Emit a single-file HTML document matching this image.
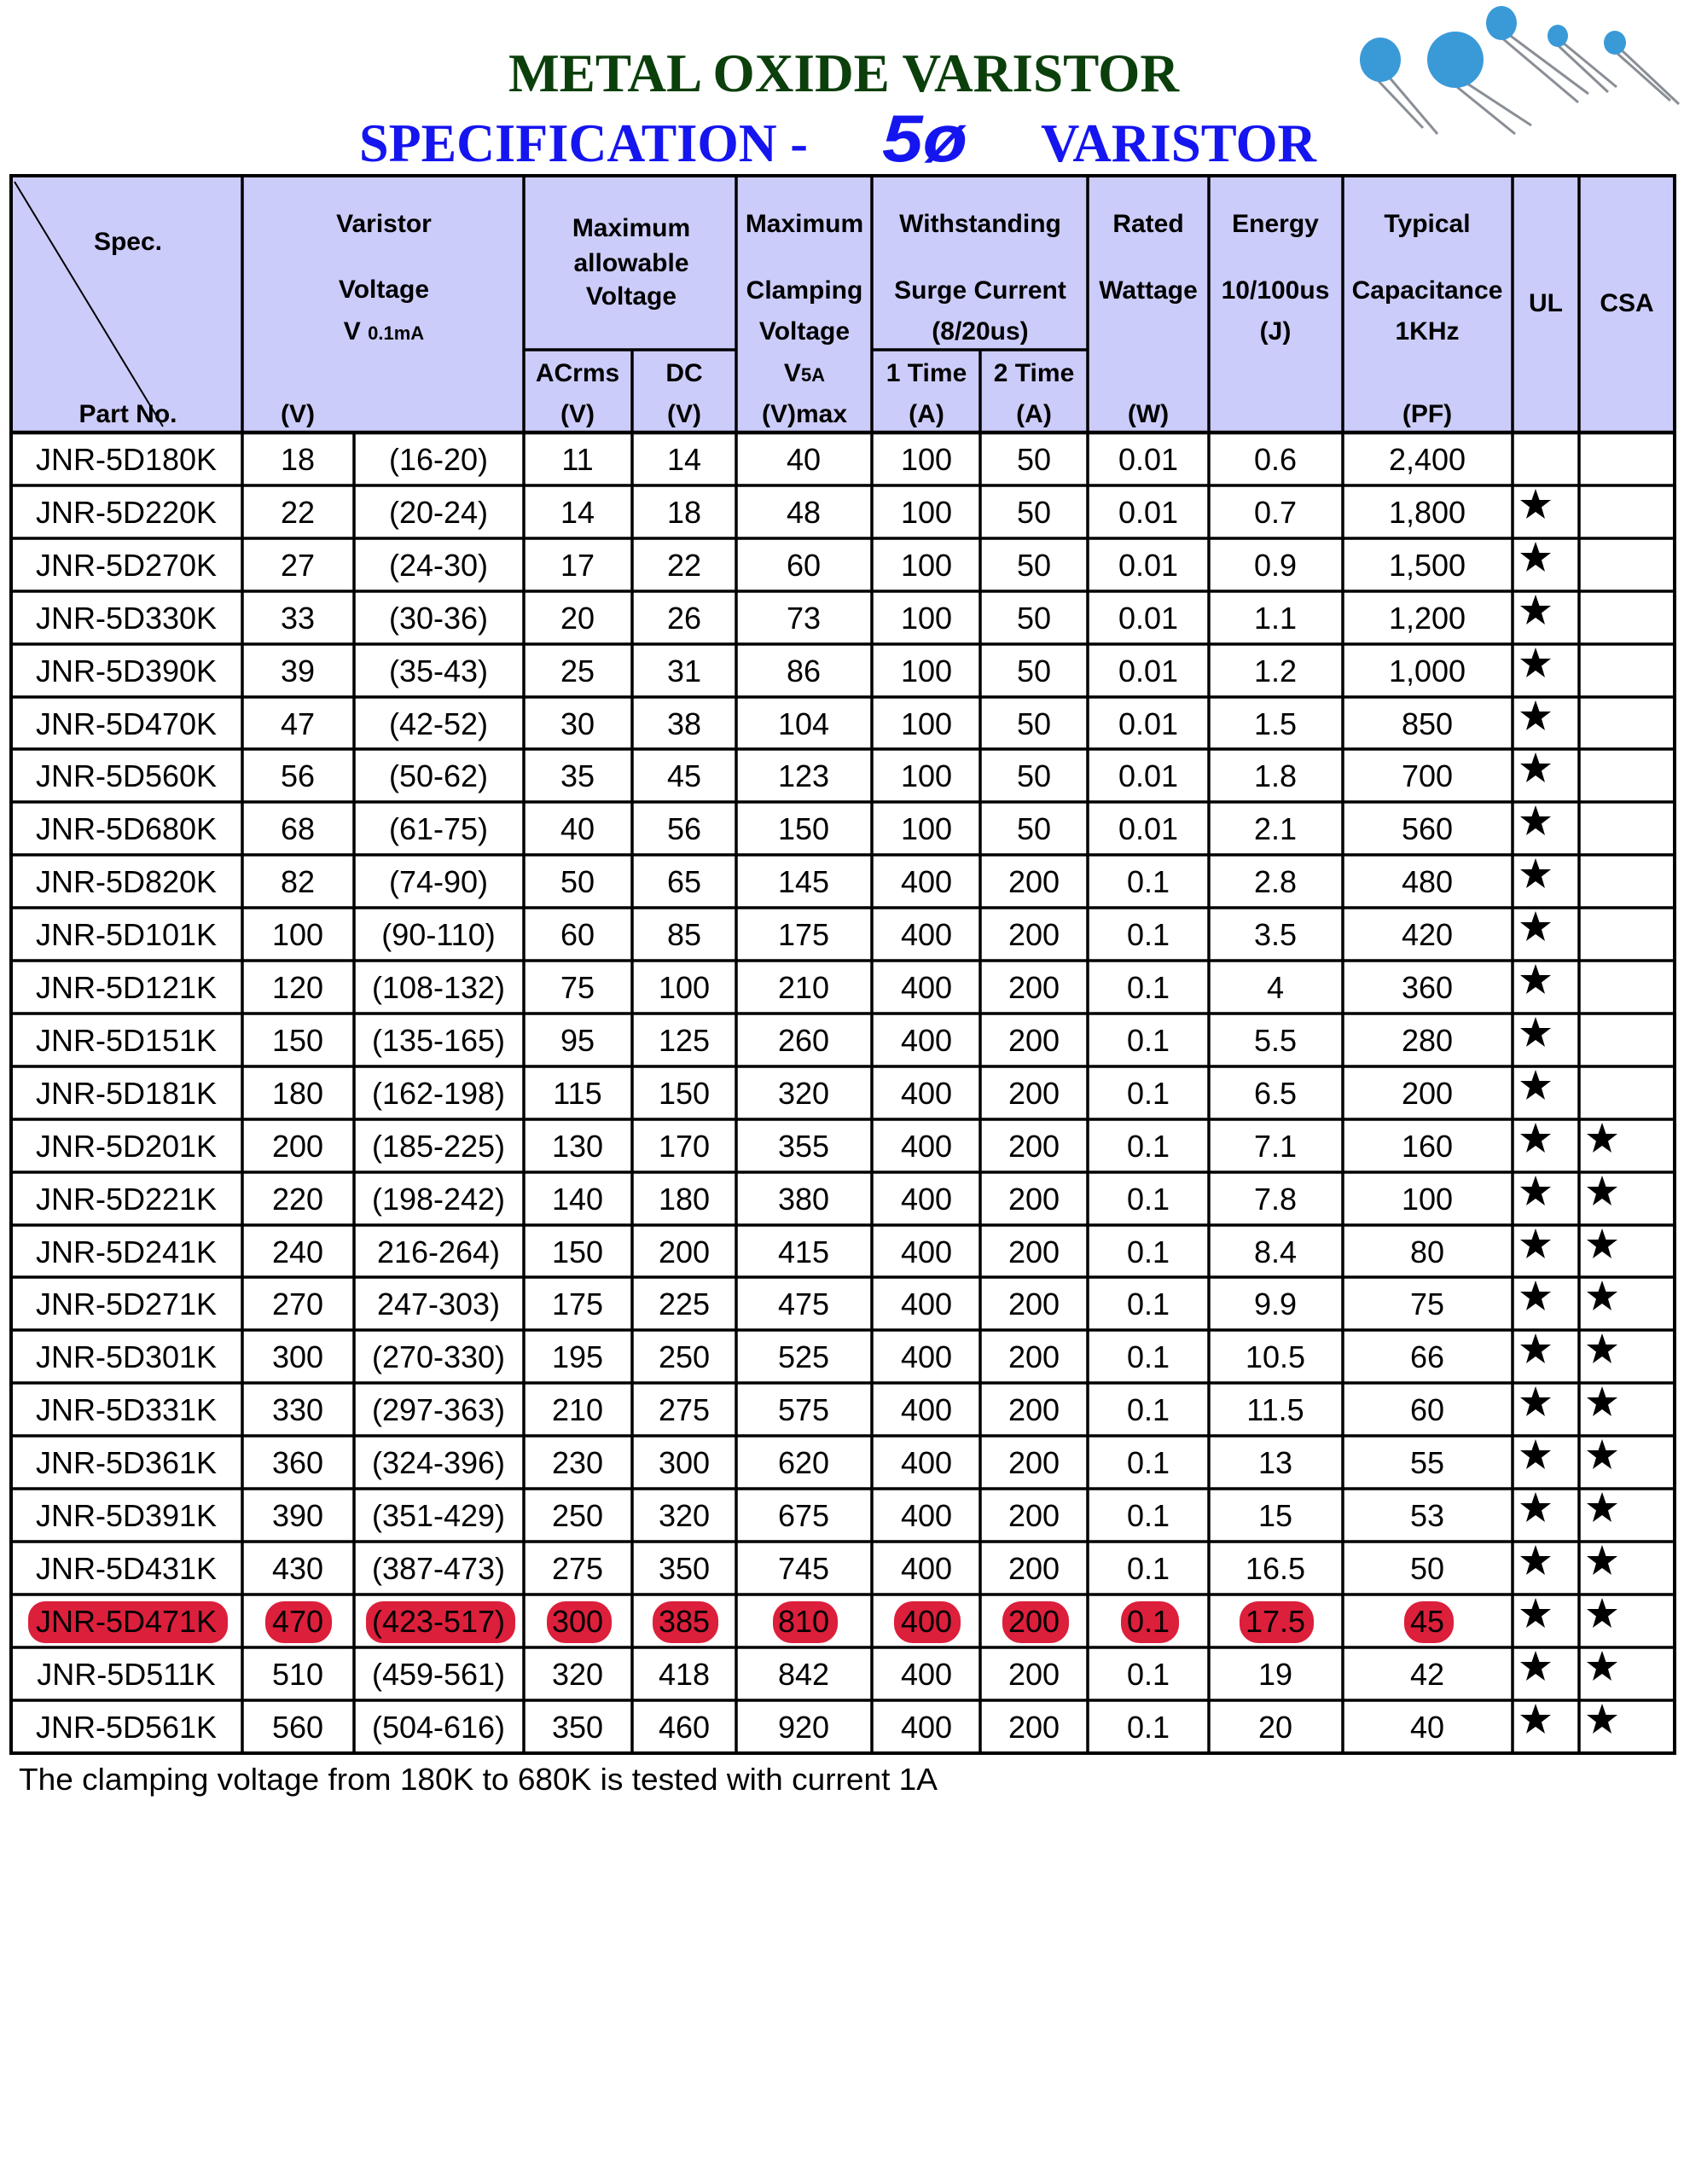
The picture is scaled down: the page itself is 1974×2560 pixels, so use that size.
<!DOCTYPE html>
<html><head><meta charset="utf-8"><style>
html,body{margin:0;padding:0;background:#fff;}
svg{display:block;}
.h{font-family:"Liberation Sans",sans-serif;font-weight:bold;font-size:30px;text-anchor:middle;fill:#000;}
.b text{font-family:"Liberation Sans",sans-serif;font-size:36px;text-anchor:middle;fill:#000;}
</style></head><body>
<svg width="1974" height="2560" viewBox="0 0 1974 2560" xmlns="http://www.w3.org/2000/svg">
<defs>
<path id="st" d="M0,-19 L4.5,-6 L18,-6 L7,2.5 L11,16 L0,8 L-11,16 L-7,2.5 L-18,-6 L-4.5,-6 Z" fill="#000"/>
</defs>
<rect width="1974" height="2560" fill="#fff"/>
<text x="596" y="107" textLength="786" lengthAdjust="spacingAndGlyphs" font-family="Liberation Serif,serif" font-weight="bold" font-size="64" fill="#0b3f0b">METAL OXIDE VARISTOR</text>
<text x="421" y="189" textLength="526" lengthAdjust="spacingAndGlyphs" font-family="Liberation Serif,serif" font-weight="bold" font-size="64" fill="#1515f0">SPECIFICATION -</text>
<text x="1034" y="189" textLength="100" lengthAdjust="spacingAndGlyphs" font-family="Liberation Sans,sans-serif" font-weight="bold" font-style="italic" font-size="78" fill="#1515f0">5ø</text>
<text x="1220" y="189" textLength="323" lengthAdjust="spacingAndGlyphs" font-family="Liberation Serif,serif" font-weight="bold" font-size="64" fill="#1515f0">VARISTOR</text>
<g stroke="#8a8f96" stroke-width="3">
<line x1="1628" y1="90" x2="1685" y2="157"/><line x1="1615" y1="94" x2="1668" y2="150"/>
<line x1="1720" y1="98" x2="1795" y2="147"/><line x1="1708" y1="102" x2="1776" y2="157"/>
<line x1="1768" y1="40" x2="1862" y2="110"/><line x1="1760" y1="44" x2="1850" y2="120"/>
<line x1="1832" y1="50" x2="1895" y2="102"/><line x1="1826" y1="53" x2="1885" y2="108"/>
<line x1="1900" y1="58" x2="1968" y2="122"/><line x1="1894" y1="61" x2="1958" y2="118"/>
</g>
<g fill="#3a9ad8">
<ellipse cx="1618" cy="70" rx="24" ry="26"/>
<ellipse cx="1706" cy="70" rx="33" ry="33"/>
<ellipse cx="1760" cy="27" rx="18" ry="20"/>
<ellipse cx="1826" cy="42" rx="12" ry="13"/>
<ellipse cx="1893" cy="50" rx="13" ry="14"/>
</g>
<rect x="13" y="206" width="1950" height="301" fill="#ccccfa"/>
<g fill="#dc1f3b">
<rect x="33" y="1877" width="234" height="49" rx="20"/>
<rect x="311" y="1877" width="78" height="49" rx="22"/>
<rect x="429" y="1877" width="175" height="49" rx="20"/>
<rect x="641" y="1877" width="76" height="49" rx="22"/>
<rect x="765" y="1877" width="77" height="49" rx="22"/>
<rect x="906" y="1877" width="76" height="49" rx="22"/>
<rect x="1048" y="1877" width="78" height="49" rx="22"/>
<rect x="1175" y="1877" width="78" height="49" rx="22"/>
<rect x="1314" y="1877" width="68" height="49" rx="22"/>
<rect x="1453" y="1877" width="87" height="49" rx="22"/>
<rect x="1646" y="1877" width="58" height="49" rx="22"/>
</g>
<g stroke="#000" stroke-width="3.5" fill="none">
<rect x="13" y="206" width="1950" height="1849" stroke-width="4"/>
<line x1="284" y1="206" x2="284" y2="2055"/>
<line x1="415" y1="507" x2="415" y2="2055"/>
<line x1="614" y1="206" x2="614" y2="2055"/>
<line x1="741" y1="410" x2="741" y2="2055"/>
<line x1="863" y1="206" x2="863" y2="2055"/>
<line x1="1022" y1="206" x2="1022" y2="2055"/>
<line x1="1149" y1="410" x2="1149" y2="2055"/>
<line x1="1275" y1="206" x2="1275" y2="2055"/>
<line x1="1417" y1="206" x2="1417" y2="2055"/>
<line x1="1574" y1="206" x2="1574" y2="2055"/>
<line x1="1773" y1="206" x2="1773" y2="2055"/>
<line x1="1851" y1="206" x2="1851" y2="2055"/>
<line x1="614" y1="410" x2="863" y2="410"/>
<line x1="1022" y1="410" x2="1275" y2="410"/>
<line x1="13" y1="507" x2="1963" y2="507" stroke-width="4.5"/>
<line x1="13" y1="569" x2="1963" y2="569"/><line x1="13" y1="631" x2="1963" y2="631"/>
<line x1="13" y1="693" x2="1963" y2="693"/><line x1="13" y1="755" x2="1963" y2="755"/>
<line x1="13" y1="817" x2="1963" y2="817"/><line x1="13" y1="878" x2="1963" y2="878"/>
<line x1="13" y1="940" x2="1963" y2="940"/><line x1="13" y1="1002" x2="1963" y2="1002"/>
<line x1="13" y1="1064" x2="1963" y2="1064"/><line x1="13" y1="1126" x2="1963" y2="1126"/>
<line x1="13" y1="1188" x2="1963" y2="1188"/><line x1="13" y1="1250" x2="1963" y2="1250"/>
<line x1="13" y1="1312" x2="1963" y2="1312"/><line x1="13" y1="1374" x2="1963" y2="1374"/>
<line x1="13" y1="1436" x2="1963" y2="1436"/><line x1="13" y1="1497" x2="1963" y2="1497"/>
<line x1="13" y1="1559" x2="1963" y2="1559"/><line x1="13" y1="1621" x2="1963" y2="1621"/>
<line x1="13" y1="1683" x2="1963" y2="1683"/><line x1="13" y1="1745" x2="1963" y2="1745"/>
<line x1="13" y1="1807" x2="1963" y2="1807"/><line x1="13" y1="1869" x2="1963" y2="1869"/>
<line x1="13" y1="1931" x2="1963" y2="1931"/><line x1="13" y1="1993" x2="1963" y2="1993"/>
<line x1="17" y1="213" x2="191" y2="500" stroke-width="2"/>
</g>
<g class="h">
<text x="150" y="293">Spec.</text>
<text x="150" y="495">Part No.</text>
<text x="450" y="272">Varistor</text>
<text x="450" y="349">Voltage</text>
<text x="450" y="398">V <tspan font-size="22">0.1mA</tspan></text>
<text x="349" y="495">(V)</text>
<text x="740" y="277">Maximum</text>
<text x="740" y="318">allowable</text>
<text x="740" y="357">Voltage</text>
<text x="677" y="447">ACrms</text><text x="677" y="495">(V)</text>
<text x="802" y="447">DC</text><text x="802" y="495">(V)</text>
<text x="943" y="272">Maximum</text>
<text x="943" y="350">Clamping</text>
<text x="943" y="398">Voltage</text>
<text x="943" y="447">V<tspan font-size="22">5A</tspan></text>
<text x="943" y="495">(V)max</text>
<text x="1149" y="272">Withstanding</text>
<text x="1149" y="350">Surge Current</text>
<text x="1149" y="398">(8/20us)</text>
<text x="1086" y="447">1 Time</text><text x="1086" y="495">(A)</text>
<text x="1212" y="447">2 Time</text><text x="1212" y="495">(A)</text>
<text x="1346" y="272">Rated</text>
<text x="1346" y="350">Wattage</text>
<text x="1346" y="495">(W)</text>
<text x="1495" y="272">Energy</text>
<text x="1495" y="350">10/100us</text>
<text x="1495" y="398">(J)</text>
<text x="1673" y="272">Typical</text>
<text x="1673" y="350">Capacitance</text>
<text x="1673" y="398">1KHz</text>
<text x="1673" y="495">(PF)</text>
<text x="1812" y="365">UL</text>
<text x="1907" y="365">CSA</text>
</g>
<g class="b">
<g transform="translate(0,507)"><text x="148" y="44">JNR-5D180K</text><text x="349" y="44">18</text><text x="514" y="44">(16-20)</text><text x="677" y="44">11</text><text x="802" y="44">14</text><text x="942" y="44">40</text><text x="1086" y="44">100</text><text x="1212" y="44">50</text><text x="1346" y="44">0.01</text><text x="1495" y="44">0.6</text><text x="1673" y="44">2,400</text></g>
<g transform="translate(0,569)"><text x="148" y="44">JNR-5D220K</text><text x="349" y="44">22</text><text x="514" y="44">(20-24)</text><text x="677" y="44">14</text><text x="802" y="44">18</text><text x="942" y="44">48</text><text x="1086" y="44">100</text><text x="1212" y="44">50</text><text x="1346" y="44">0.01</text><text x="1495" y="44">0.7</text><text x="1673" y="44">1,800</text><use href="#st" x="1800" y="23"/></g>
<g transform="translate(0,631)"><text x="148" y="44">JNR-5D270K</text><text x="349" y="44">27</text><text x="514" y="44">(24-30)</text><text x="677" y="44">17</text><text x="802" y="44">22</text><text x="942" y="44">60</text><text x="1086" y="44">100</text><text x="1212" y="44">50</text><text x="1346" y="44">0.01</text><text x="1495" y="44">0.9</text><text x="1673" y="44">1,500</text><use href="#st" x="1800" y="23"/></g>
<g transform="translate(0,693)"><text x="148" y="44">JNR-5D330K</text><text x="349" y="44">33</text><text x="514" y="44">(30-36)</text><text x="677" y="44">20</text><text x="802" y="44">26</text><text x="942" y="44">73</text><text x="1086" y="44">100</text><text x="1212" y="44">50</text><text x="1346" y="44">0.01</text><text x="1495" y="44">1.1</text><text x="1673" y="44">1,200</text><use href="#st" x="1800" y="23"/></g>
<g transform="translate(0,755)"><text x="148" y="44">JNR-5D390K</text><text x="349" y="44">39</text><text x="514" y="44">(35-43)</text><text x="677" y="44">25</text><text x="802" y="44">31</text><text x="942" y="44">86</text><text x="1086" y="44">100</text><text x="1212" y="44">50</text><text x="1346" y="44">0.01</text><text x="1495" y="44">1.2</text><text x="1673" y="44">1,000</text><use href="#st" x="1800" y="23"/></g>
<g transform="translate(0,817)"><text x="148" y="44">JNR-5D470K</text><text x="349" y="44">47</text><text x="514" y="44">(42-52)</text><text x="677" y="44">30</text><text x="802" y="44">38</text><text x="942" y="44">104</text><text x="1086" y="44">100</text><text x="1212" y="44">50</text><text x="1346" y="44">0.01</text><text x="1495" y="44">1.5</text><text x="1673" y="44">850</text><use href="#st" x="1800" y="23"/></g>
<g transform="translate(0,878)"><text x="148" y="44">JNR-5D560K</text><text x="349" y="44">56</text><text x="514" y="44">(50-62)</text><text x="677" y="44">35</text><text x="802" y="44">45</text><text x="942" y="44">123</text><text x="1086" y="44">100</text><text x="1212" y="44">50</text><text x="1346" y="44">0.01</text><text x="1495" y="44">1.8</text><text x="1673" y="44">700</text><use href="#st" x="1800" y="23"/></g>
<g transform="translate(0,940)"><text x="148" y="44">JNR-5D680K</text><text x="349" y="44">68</text><text x="514" y="44">(61-75)</text><text x="677" y="44">40</text><text x="802" y="44">56</text><text x="942" y="44">150</text><text x="1086" y="44">100</text><text x="1212" y="44">50</text><text x="1346" y="44">0.01</text><text x="1495" y="44">2.1</text><text x="1673" y="44">560</text><use href="#st" x="1800" y="23"/></g>
<g transform="translate(0,1002)"><text x="148" y="44">JNR-5D820K</text><text x="349" y="44">82</text><text x="514" y="44">(74-90)</text><text x="677" y="44">50</text><text x="802" y="44">65</text><text x="942" y="44">145</text><text x="1086" y="44">400</text><text x="1212" y="44">200</text><text x="1346" y="44">0.1</text><text x="1495" y="44">2.8</text><text x="1673" y="44">480</text><use href="#st" x="1800" y="23"/></g>
<g transform="translate(0,1064)"><text x="148" y="44">JNR-5D101K</text><text x="349" y="44">100</text><text x="514" y="44">(90-110)</text><text x="677" y="44">60</text><text x="802" y="44">85</text><text x="942" y="44">175</text><text x="1086" y="44">400</text><text x="1212" y="44">200</text><text x="1346" y="44">0.1</text><text x="1495" y="44">3.5</text><text x="1673" y="44">420</text><use href="#st" x="1800" y="23"/></g>
<g transform="translate(0,1126)"><text x="148" y="44">JNR-5D121K</text><text x="349" y="44">120</text><text x="514" y="44">(108-132)</text><text x="677" y="44">75</text><text x="802" y="44">100</text><text x="942" y="44">210</text><text x="1086" y="44">400</text><text x="1212" y="44">200</text><text x="1346" y="44">0.1</text><text x="1495" y="44">4</text><text x="1673" y="44">360</text><use href="#st" x="1800" y="23"/></g>
<g transform="translate(0,1188)"><text x="148" y="44">JNR-5D151K</text><text x="349" y="44">150</text><text x="514" y="44">(135-165)</text><text x="677" y="44">95</text><text x="802" y="44">125</text><text x="942" y="44">260</text><text x="1086" y="44">400</text><text x="1212" y="44">200</text><text x="1346" y="44">0.1</text><text x="1495" y="44">5.5</text><text x="1673" y="44">280</text><use href="#st" x="1800" y="23"/></g>
<g transform="translate(0,1250)"><text x="148" y="44">JNR-5D181K</text><text x="349" y="44">180</text><text x="514" y="44">(162-198)</text><text x="677" y="44">115</text><text x="802" y="44">150</text><text x="942" y="44">320</text><text x="1086" y="44">400</text><text x="1212" y="44">200</text><text x="1346" y="44">0.1</text><text x="1495" y="44">6.5</text><text x="1673" y="44">200</text><use href="#st" x="1800" y="23"/></g>
<g transform="translate(0,1312)"><text x="148" y="44">JNR-5D201K</text><text x="349" y="44">200</text><text x="514" y="44">(185-225)</text><text x="677" y="44">130</text><text x="802" y="44">170</text><text x="942" y="44">355</text><text x="1086" y="44">400</text><text x="1212" y="44">200</text><text x="1346" y="44">0.1</text><text x="1495" y="44">7.1</text><text x="1673" y="44">160</text><use href="#st" x="1800" y="23"/><use href="#st" x="1878" y="23"/></g>
<g transform="translate(0,1374)"><text x="148" y="44">JNR-5D221K</text><text x="349" y="44">220</text><text x="514" y="44">(198-242)</text><text x="677" y="44">140</text><text x="802" y="44">180</text><text x="942" y="44">380</text><text x="1086" y="44">400</text><text x="1212" y="44">200</text><text x="1346" y="44">0.1</text><text x="1495" y="44">7.8</text><text x="1673" y="44">100</text><use href="#st" x="1800" y="23"/><use href="#st" x="1878" y="23"/></g>
<g transform="translate(0,1436)"><text x="148" y="44">JNR-5D241K</text><text x="349" y="44">240</text><text x="514" y="44">216-264)</text><text x="677" y="44">150</text><text x="802" y="44">200</text><text x="942" y="44">415</text><text x="1086" y="44">400</text><text x="1212" y="44">200</text><text x="1346" y="44">0.1</text><text x="1495" y="44">8.4</text><text x="1673" y="44">80</text><use href="#st" x="1800" y="23"/><use href="#st" x="1878" y="23"/></g>
<g transform="translate(0,1497)"><text x="148" y="44">JNR-5D271K</text><text x="349" y="44">270</text><text x="514" y="44">247-303)</text><text x="677" y="44">175</text><text x="802" y="44">225</text><text x="942" y="44">475</text><text x="1086" y="44">400</text><text x="1212" y="44">200</text><text x="1346" y="44">0.1</text><text x="1495" y="44">9.9</text><text x="1673" y="44">75</text><use href="#st" x="1800" y="23"/><use href="#st" x="1878" y="23"/></g>
<g transform="translate(0,1559)"><text x="148" y="44">JNR-5D301K</text><text x="349" y="44">300</text><text x="514" y="44">(270-330)</text><text x="677" y="44">195</text><text x="802" y="44">250</text><text x="942" y="44">525</text><text x="1086" y="44">400</text><text x="1212" y="44">200</text><text x="1346" y="44">0.1</text><text x="1495" y="44">10.5</text><text x="1673" y="44">66</text><use href="#st" x="1800" y="23"/><use href="#st" x="1878" y="23"/></g>
<g transform="translate(0,1621)"><text x="148" y="44">JNR-5D331K</text><text x="349" y="44">330</text><text x="514" y="44">(297-363)</text><text x="677" y="44">210</text><text x="802" y="44">275</text><text x="942" y="44">575</text><text x="1086" y="44">400</text><text x="1212" y="44">200</text><text x="1346" y="44">0.1</text><text x="1495" y="44">11.5</text><text x="1673" y="44">60</text><use href="#st" x="1800" y="23"/><use href="#st" x="1878" y="23"/></g>
<g transform="translate(0,1683)"><text x="148" y="44">JNR-5D361K</text><text x="349" y="44">360</text><text x="514" y="44">(324-396)</text><text x="677" y="44">230</text><text x="802" y="44">300</text><text x="942" y="44">620</text><text x="1086" y="44">400</text><text x="1212" y="44">200</text><text x="1346" y="44">0.1</text><text x="1495" y="44">13</text><text x="1673" y="44">55</text><use href="#st" x="1800" y="23"/><use href="#st" x="1878" y="23"/></g>
<g transform="translate(0,1745)"><text x="148" y="44">JNR-5D391K</text><text x="349" y="44">390</text><text x="514" y="44">(351-429)</text><text x="677" y="44">250</text><text x="802" y="44">320</text><text x="942" y="44">675</text><text x="1086" y="44">400</text><text x="1212" y="44">200</text><text x="1346" y="44">0.1</text><text x="1495" y="44">15</text><text x="1673" y="44">53</text><use href="#st" x="1800" y="23"/><use href="#st" x="1878" y="23"/></g>
<g transform="translate(0,1807)"><text x="148" y="44">JNR-5D431K</text><text x="349" y="44">430</text><text x="514" y="44">(387-473)</text><text x="677" y="44">275</text><text x="802" y="44">350</text><text x="942" y="44">745</text><text x="1086" y="44">400</text><text x="1212" y="44">200</text><text x="1346" y="44">0.1</text><text x="1495" y="44">16.5</text><text x="1673" y="44">50</text><use href="#st" x="1800" y="23"/><use href="#st" x="1878" y="23"/></g>
<g transform="translate(0,1869)"><text x="148" y="44">JNR-5D471K</text><text x="349" y="44">470</text><text x="514" y="44">(423-517)</text><text x="677" y="44">300</text><text x="802" y="44">385</text><text x="942" y="44">810</text><text x="1086" y="44">400</text><text x="1212" y="44">200</text><text x="1346" y="44">0.1</text><text x="1495" y="44">17.5</text><text x="1673" y="44">45</text><use href="#st" x="1800" y="23"/><use href="#st" x="1878" y="23"/></g>
<g transform="translate(0,1931)"><text x="148" y="44">JNR-5D511K</text><text x="349" y="44">510</text><text x="514" y="44">(459-561)</text><text x="677" y="44">320</text><text x="802" y="44">418</text><text x="942" y="44">842</text><text x="1086" y="44">400</text><text x="1212" y="44">200</text><text x="1346" y="44">0.1</text><text x="1495" y="44">19</text><text x="1673" y="44">42</text><use href="#st" x="1800" y="23"/><use href="#st" x="1878" y="23"/></g>
<g transform="translate(0,1993)"><text x="148" y="44">JNR-5D561K</text><text x="349" y="44">560</text><text x="514" y="44">(504-616)</text><text x="677" y="44">350</text><text x="802" y="44">460</text><text x="942" y="44">920</text><text x="1086" y="44">400</text><text x="1212" y="44">200</text><text x="1346" y="44">0.1</text><text x="1495" y="44">20</text><text x="1673" y="44">40</text><use href="#st" x="1800" y="23"/><use href="#st" x="1878" y="23"/></g>
</g>
<text x="22" y="2098" textLength="1077" lengthAdjust="spacingAndGlyphs" font-family="Liberation Sans,sans-serif" font-size="36" fill="#000">The clamping voltage from 180K to 680K is tested with current 1A</text>
</svg>
</body></html>
